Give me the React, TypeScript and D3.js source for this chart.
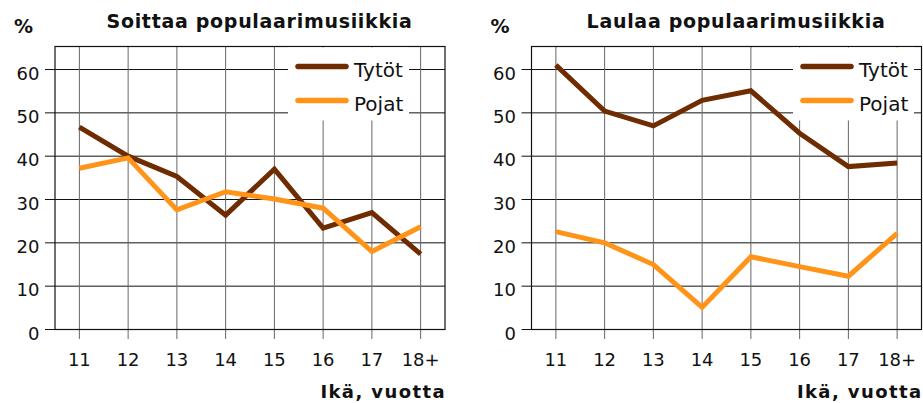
import React, { useEffect, useRef } from "react"
import * as d3 from "d3"

const ages = ["11", "12", "13", "14", "15", "16", "17", "18+"]
const yTicks = [0, 10, 20, 30, 40, 50, 60]
const seriesNames = ["Tytöt", "Pojat"]
const seriesColors = ["#6e2c00", "#ff9418"]

const playTitle = "Soittaa populaarimusiikkia"
const playGirls = [46.7, 40, 35.3, 26.4, 37, 23.4, 27, 17.4]
const playBoys = [37.2, 39.6, 27.6, 31.8, 30.1, 28, 18, 23.7]

const singTitle = "Laulaa populaarimusiikkia"
const singGirls = [61, 50.4, 47, 52.9, 55.1, 45.3, 37.6, 38.4]
const singBoys = [22.6, 20, 15, 5.1, 16.8, 14.5, 12.3, 22.2]

const FONT = "'DejaVu Sans', Verdana, sans-serif"

function Panel(props: { title: string; girls: number[]; boys: number[]; offsetX: number; legendX: number }) {
    const ref = useRef<SVGGElement>(null)

    useEffect(() => {
        const g = d3.select(ref.current)
        g.selectAll("*").remove()

        const left = 55, right = 445, top = 46.5, bottom = 329.5

        const x = d3.scalePoint<string>().domain(ages).range([left, right]).padding(0.5)
        const y = d3.scaleLinear().domain([0, 10]).range([bottom, bottom - 43.33])

        // horizontal grid + ticks
        g.append("g")
            .selectAll("line")
            .data(yTicks)
            .enter()
            .append("line")
            .attr("x1", left - 10)
            .attr("x2", right)
            .attr("y1", d => y(d))
            .attr("y2", d => y(d))
            .attr("stroke", "#111")
            .attr("stroke-width", 1)

        // vertical grid + ticks
        g.append("g")
            .selectAll("line")
            .data(ages)
            .enter()
            .append("line")
            .attr("x1", d => x(d)!)
            .attr("x2", d => x(d)!)
            .attr("y1", top)
            .attr("y2", bottom + 9.5)
            .attr("stroke", "#666")
            .attr("stroke-width", 1)

        // frame
        g.append("rect")
            .attr("x", left)
            .attr("y", top)
            .attr("width", right - left)
            .attr("height", bottom - top)
            .attr("fill", "none")
            .attr("stroke", "#111")
            .attr("stroke-width", 1.2)

        // tick labels
        g.append("g")
            .selectAll("text")
            .data(yTicks)
            .enter()
            .append("text")
            .attr("x", 39.5)
            .attr("y", d => y(d) + 10)
            .attr("text-anchor", "end")
            .style("font-family", FONT)
            .style("font-size", "18px")
            .attr("fill", "#111")
            .text(d => d)

        g.append("g")
            .selectAll("text")
            .data(ages)
            .enter()
            .append("text")
            .attr("x", d => x(d)!)
            .attr("y", 366)
            .attr("text-anchor", "middle")
            .style("font-family", FONT)
            .style("font-size", "18px")
            .attr("fill", "#111")
            .text(d => d)

        // data lines
        const line = d3.line<number>()
            .x((d, i) => x(ages[i])!)
            .y(d => y(d))

        ;[props.girls, props.boys].forEach((vals, k) => {
            g.append("path")
                .datum(vals)
                .attr("d", line)
                .attr("fill", "none")
                .attr("stroke", seriesColors[k])
                .attr("stroke-width", 5)
                .attr("stroke-linejoin", "miter")
        })

        // legend
        const lx = props.legendX
        g.append("rect")
            .attr("x", lx - 8)
            .attr("y", 47.5)
            .attr("width", 121)
            .attr("height", 73)
            .attr("fill", "white")

        seriesNames.forEach((name, k) => {
            const ly = 66.5 + k * 34
            g.append("line")
                .attr("x1", lx + 2)
                .attr("x2", lx + 50)
                .attr("y1", ly)
                .attr("y2", ly)
                .attr("stroke", seriesColors[k])
                .attr("stroke-width", 5.5)
                .attr("stroke-linecap", "round")
            g.append("text")
                .attr("x", lx + 58)
                .attr("y", ly + 10)
                .style("font-family", FONT)
                .style("font-size", "20px")
                .attr("fill", "#111")
                .text(name)
        })

        // titles
        g.append("text")
            .attr("x", 259.5)
            .attr("y", 27.5)
            .attr("text-anchor", "middle")
            .style("font-family", FONT)
            .style("font-size", "19px")
            .style("font-weight", "bold")
            .style("letter-spacing", "0.7px")
            .attr("fill", "#111")
            .text(props.title)

        g.append("text")
            .attr("x", 14)
            .attr("y", 33)
            .style("font-family", FONT)
            .style("font-size", "19px")
            .style("font-weight", "bold")
            .attr("fill", "#111")
            .text("%")

        g.append("text")
            .attr("x", right + 1)
            .attr("y", 398)
            .attr("text-anchor", "end")
            .style("font-family", FONT)
            .style("font-size", "18px")
            .style("font-weight", "bold")
            .style("letter-spacing", "1.4px")
            .attr("fill", "#111")
            .text("Ikä, vuotta")
    }, [props.title, props.girls, props.boys, props.legendX])

    return <g ref={ref} transform={"translate(" + props.offsetX + ",0)"}></g>
}

export default function App() {
    return (
        <div style={{ position: "fixed", left: 0, top: 0 }}>
            <svg width={923} height={403} style={{ display: "block", background: "white" }}>
                <Panel title={playTitle} girls={playGirls} boys={playBoys} offsetX={0} legendX={296} />
                <Panel title={singTitle} girls={singGirls} boys={singBoys} offsetX={476.5} legendX={324.5} />
            </svg>
        </div>
    )
}
